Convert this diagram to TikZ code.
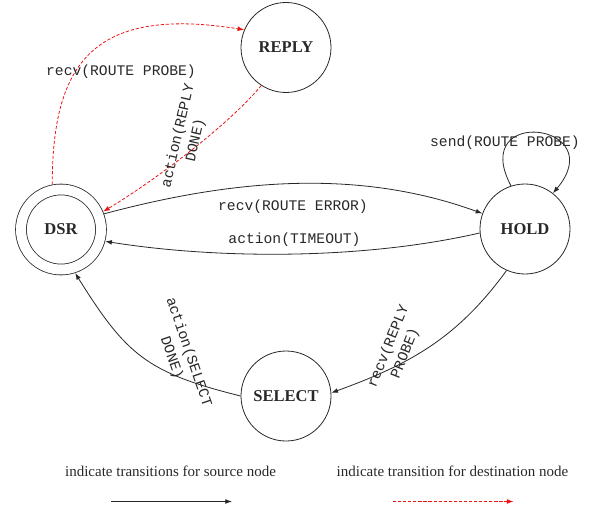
\documentclass[tikz,border=0pt]{standalone}
\usepackage{fontspec}
\setmainfont{Liberation Serif}
\setmonofont{Liberation Mono}
\usetikzlibrary{
    arrows.meta,
    automata,
    positioning
}
\definecolor{tikzred}{RGB}{235,20,20}
\definecolor{tikzink}{RGB}{40,40,40}
\tikzset{
    % Transition styles
    source flow/.style={
        ->,
        >={Latex[length=5pt,width=3.6pt]},
        tikzink,
        line width=0.6pt
    },
    dest flow/.style={
        ->,
        >={Latex[length=5pt,width=3.6pt]},
        tikzred,
        line width=0.6pt,
        dash pattern=on 2.4pt off 1.4pt
    },
    % Label styles
    trans label/.style={
        font=\ttfamily\fontsize{11}{13.5}\selectfont,
        text=tikzink,
        align=center,
        inner sep=1pt
    },
    legend label/.style={
        font=\fontsize{11.25}{13}\selectfont,
        text=tikzink
    }
}

\begin{document}
\begin{tikzpicture}[
        x=0.75pt, y=0.75pt,
        every state/.style={
            draw=tikzink,
            line width=0.6pt,
            minimum size=67.5pt,
            inner sep=0pt,
            text=tikzink,
            font=\bfseries\fontsize{12.4}{14}\selectfont
        },
        accepting/.style={
            minimum size=60pt,
            double distance=7.5pt,
            outer sep=4.35pt
        }
    ]
    \useasboundingbox (0,0) rectangle (591,511);

    \node[state, accepting] (dsr) at (61,281.5) {DSR};
    \node[state] (reply) at (286,463.5) {REPLY};
    \node[state] (hold) at (525,282) {HOLD};
    \node[state] (select) at (286,115) {SELECT};

    % source node transitions
    \path[source flow]
        (dsr.20) edge[out=15, in=160, looseness=0.9] (hold.160)
        (hold.185) edge[out=193, in=-9, looseness=0.8] (dsr.-15)
        (hold.108) edge[out=118, in=50, looseness=5.5] (hold.52)
        (hold.246) edge[out=234, in=20] (select.4)
        (select.180) edge[out=166, in=-58, looseness=1.2] (dsr.-72);

    % destination node transitions
    \path[dest flow]
        (dsr.101) edge[out=90, in=171, out looseness=1.25, in looseness=1.6] (reply.157)
        (reply.237) edge[out=230, in=31, looseness=0.7] (dsr.23);

    % transition labels
    \node[trans label] (probe in) at (121,439) {recv(ROUTE PROBE)};
    \node[trans label, rotate=77] (reply done) at (187,373) {action(REPLY\\DONE)};
    \node[trans label] (route error) at (293,304) {recv(ROUTE ERROR)};
    \node[trans label] (timeout) at (294.5,271) {action(TIMEOUT)};
    \node[trans label] (probe out) at (505,368) {send(ROUTE PROBE)};
    \node[trans label, rotate=68] (reply probe) at (397,161) {recv(REPLY\\PROBE)};
    \node[trans label, rotate=-71] (select done) at (180,156) {action(SELECT\\DONE)};

    % legend
    \node[legend label] (src text) at (170.5,40) {indicate transitions for source node};
    \node[legend label] (dst text) at (452.5,40) {indicate transition for destination node};
    \coordinate (src a) at (111,9.5);
    \coordinate (src b) at (232,9.5);
    \coordinate (dst a) at (393,9.5);
    \coordinate (dst b) at (513.5,9.5);
    \draw[source flow] (src a) -- (src b);
    \draw[dest flow] (dst a) -- (dst b);
\end{tikzpicture}
\end{document}
